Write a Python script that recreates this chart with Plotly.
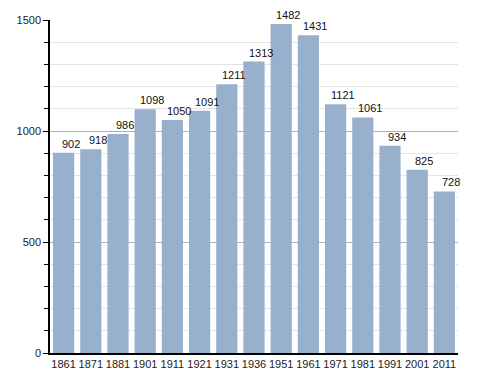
import plotly.graph_objects as go

years = ["1861", "1871", "1881", "1901", "1911", "1921", "1931", "1936", "1951", "1961", "1971", "1981", "1991", "2001", "2011"]
population = [902, 918, 986, 1098, 1050, 1091, 1211, 1313, 1482, 1431, 1121, 1061, 934, 825, 728]
y_ticks = [0, 500, 1000, 1500]

fig = go.Figure()
fig.add_trace(go.Bar(x=years, y=population, marker=dict(color="#98b0cc", line=dict(width=0)), hoverinfo="x+y"))

for i, v in enumerate(population):
    fig.add_annotation(x=i, y=v, text=str(v), showarrow=False, yanchor="bottom", xanchor="center",
                       xshift=7, yshift=1, font=dict(family="Liberation Sans, Arial", size=11, color="#111"))

# page body has an 8px default margin, so the figure is sized to fit the window
fig.update_layout(
    width=480, height=365,
    margin=dict(l=42, r=30, t=12, b=20, autoexpand=False),
    paper_bgcolor="white", plot_bgcolor="white",
    bargap=0.22,
    showlegend=False,
    font=dict(family="Liberation Sans, Arial", size=11, color="#222"),
)
fig.update_xaxes(type="category", range=[-0.5, len(years) - 0.5], showline=True, linecolor="black", linewidth=1.5,
                 ticks="", showgrid=False, tickfont=dict(size=11), automargin=False)
fig.update_yaxes(range=[0, 1500], tickvals=y_ticks, showline=True, linecolor="black", linewidth=1.5,
                 ticks="outside", ticklen=5, tickcolor="black", showgrid=True, gridcolor="#b0b0b0", gridwidth=1,
                 minor=dict(dtick=100, ticks="outside", ticklen=4, tickcolor="black", showgrid=True, gridcolor="#e4e4e4"),
                 zeroline=False, tickfont=dict(size=11), automargin=False)

fig.write_html("out.html")
